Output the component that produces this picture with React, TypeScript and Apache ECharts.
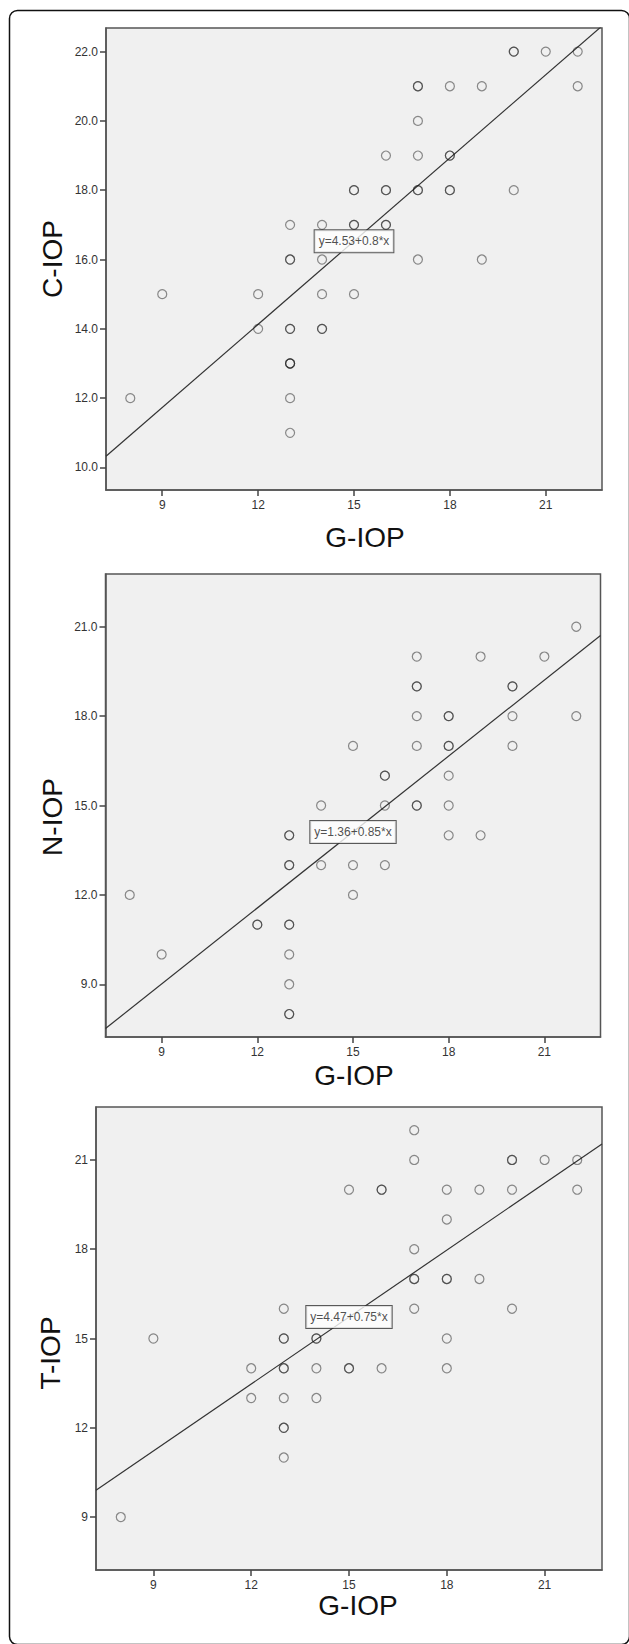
import React, { useEffect, useRef } from "react";
import * as echarts from "echarts";

// ---------- data ----------
const xTicks = [9, 12, 15, 18, 21];
const yTicks1 = [10, 12, 14, 16, 18, 20, 22];
const yTicks2 = [9, 12, 15, 18, 21];
const yTicks3 = [9, 12, 15, 18, 21];

// Panel 1: G-IOP vs C-IOP
const gIop1 = [
  20, 20, 21, 22,
  17, 17, 18, 19, 22,
  17,
  16, 17, 18, 18,
  15, 15, 16, 16, 17, 17, 18, 18, 20,
  13, 14, 15, 15, 16, 16,
  13, 13, 14, 17, 19,
  9, 12, 14, 15,
  12, 13, 13, 14, 14,
  13, 13, 13,
  8, 13,
  13,
];
const cIop = [
  22, 22, 22, 22,
  21, 21, 21, 21, 21,
  20,
  19, 19, 19, 19,
  18, 18, 18, 18, 18, 18, 18, 18, 18,
  17, 17, 17, 17, 17, 17,
  16, 16, 16, 16, 16,
  15, 15, 15, 15,
  14, 14, 14, 14, 14,
  13, 13, 13,
  12, 12,
  11,
];

// Panel 2: G-IOP vs N-IOP
const gIop2 = [
  22,
  17, 19, 21,
  17, 17, 20, 20,
  17, 18, 18, 20, 22,
  15, 17, 18, 18, 20,
  16, 16, 18,
  14, 16, 17, 17, 18,
  13, 13, 18, 19,
  13, 13, 14, 15, 16,
  8, 15,
  12, 12, 13, 13,
  9, 13,
  13,
  13, 13,
];
const nIop = [
  21,
  20, 20, 20,
  19, 19, 19, 19,
  18, 18, 18, 18, 18,
  17, 17, 17, 17, 17,
  16, 16, 16,
  15, 15, 15, 15, 15,
  14, 14, 14, 14,
  13, 13, 13, 13, 13,
  12, 12,
  11, 11, 11, 11,
  10, 10,
  9,
  8, 8,
];

// Panel 3: G-IOP vs T-IOP
const gIop3 = [
  17,
  17, 20, 20, 21, 22,
  15, 16, 16, 18, 19, 20, 22,
  18,
  17,
  17, 17, 18, 18, 19,
  13, 17, 20,
  9, 13, 13, 14, 14, 18,
  12, 13, 13, 14, 15, 15, 16, 18,
  12, 13, 14,
  13, 13,
  13,
  8,
];
const tIop = [
  22,
  21, 21, 21, 21, 21,
  20, 20, 20, 20, 20, 20, 20,
  19,
  18,
  17, 17, 17, 17, 17,
  16, 16, 16,
  15, 15, 15, 15, 15, 15,
  14, 14, 14, 14, 14, 14, 14, 14,
  13, 13, 13,
  12, 12,
  11,
  9,
];

// regression fits: [intercept, slope]
const fit1 = [4.53, 0.8];
const fit2 = [1.36, 0.85];
const fit3 = [4.47, 0.75];
const fitLabels = ["y=4.53+0.8*x", "y=1.36+0.85*x", "y=4.47+0.75*x"];
const labelAtX = 15;

const xTitle = "G-IOP";
const yTitles = ["C-IOP", "N-IOP", "T-IOP"];

export default function App() {
  const ref = useRef<HTMLDivElement>(null);

  useEffect(() => {
    if (!ref.current) return;
    const chart = echarts.init(ref.current, undefined, { renderer: "svg" });
    const font = "'Liberation Sans', Arial, sans-serif";

    const grids = [
      { left: 106, top: 28, width: 496, height: 462 },
      { left: 105.5, top: 574, width: 495, height: 463 },
      { left: 96, top: 1107, width: 506, height: 463 },
    ];
    const xRange = [7.24, 22.76];
    const yRanges = [
      [9.35, 22.68],
      [7.23, 22.77],
      [7.22, 22.78],
    ];
    const yTickSets = [yTicks1, yTicks2, yTicks3];
    const yFmt = [
      (v: number) => v.toFixed(1),
      (v: number) => v.toFixed(1),
      (v: number) => String(v),
    ];
    const xs = [gIop1, gIop2, gIop3];
    const ys = [cIop, nIop, tIop];
    const fits = [fit1, fit2, fit3];

    const series: any[] = [];
    for (let i = 0; i < 3; i++) {
      const pts = xs[i].map((x, k) => [x, ys[i][k]]);
      const [a, b] = fits[i];
      series.push({
        type: "line",
        xAxisIndex: i,
        yAxisIndex: i,
        data: [
          [xRange[0], a + b * xRange[0]],
          [xRange[1], a + b * xRange[1]],
        ],
        symbol: "none",
        showSymbol: false,
        clip: true,
        silent: true,
        lineStyle: { color: "#333", width: 1.2 },
        z: 2,
      });
      series.push({
        type: "scatter",
        xAxisIndex: i,
        yAxisIndex: i,
        data: pts,
        symbol: "circle",
        symbolSize: 9,
        silent: true,
        itemStyle: {
          color: "rgba(0,0,0,0)",
          borderColor: "rgba(20,20,20,0.6)",
          borderWidth: 1.2,
        },
        z: 3,
      });
      series.push({
        type: "scatter",
        xAxisIndex: i,
        yAxisIndex: i,
        data: [[labelAtX, a + b * labelAtX]],
        symbolSize: 1,
        silent: true,
        itemStyle: { color: "rgba(0,0,0,0)" },
        label: {
          show: true,
          position: "inside",
          formatter: fitLabels[i],
          fontFamily: font,
          fontSize: 12,
          color: "#222",
          backgroundColor: "#fff",
          borderColor: "#333",
          borderWidth: 1,
          padding: [5, 4, 5, 4],
        },
        z: 5,
      });
    }

    const titleStyle = (text: string) => ({
      text,
      fontFamily: font,
      fontSize: 28,
      fill: "#111",
      align: "center",
      verticalAlign: "middle",
    });

    const option: any = {
      animation: false,
      backgroundColor: "#fff",
      grid: grids.map((g) => ({
        ...g,
        show: true,
        backgroundColor: "#f0f0f0",
        borderColor: "#555",
        borderWidth: 1.5,
      })),
      xAxis: grids.map((_, i) => ({
        type: "value",
        gridIndex: i,
        min: xRange[0],
        max: xRange[1],
        splitLine: { show: false },
        axisLine: { show: true, lineStyle: { color: "#555", width: 1.5 } },
        axisTick: {
          show: true,
          length: 6,
          inside: false,
          customValues: xTicks,
          lineStyle: { color: "#444", width: 1.5 },
        },
        axisLabel: {
          customValues: xTicks,
          fontFamily: font,
          fontSize: 12,
          color: "#333",
          margin: 9,
        },
      })),
      yAxis: grids.map((_, i) => ({
        type: "value",
        gridIndex: i,
        min: yRanges[i][0],
        max: yRanges[i][1],
        splitLine: { show: false },
        axisLine: { show: true, lineStyle: { color: "#555", width: 1.5 } },
        axisTick: {
          show: true,
          length: 6,
          inside: false,
          customValues: yTickSets[i],
          lineStyle: { color: "#444", width: 1.5 },
        },
        axisLabel: {
          customValues: yTickSets[i],
          formatter: yFmt[i],
          fontFamily: font,
          fontSize: 12,
          color: "#333",
          margin: 8,
        },
      })),
      series,
      graphic: [
        {
          type: "rect",
          shape: { x: 9.5, y: 10.5, width: 620, height: 1634, r: 8 },
          style: { fill: "none", stroke: "#111", lineWidth: 1.5 },
          silent: true,
          z: 10,
        },
        { type: "text", x: 365, y: 537, style: titleStyle(xTitle), z: 10 },
        { type: "text", x: 354, y: 1075, style: titleStyle(xTitle), z: 10 },
        { type: "text", x: 358, y: 1605, style: titleStyle(xTitle), z: 10 },
        { type: "text", x: 52, y: 259, rotation: Math.PI / 2, style: titleStyle(yTitles[0]), z: 10 },
        { type: "text", x: 52, y: 817, rotation: Math.PI / 2, style: titleStyle(yTitles[1]), z: 10 },
        { type: "text", x: 50, y: 1353, rotation: Math.PI / 2, style: titleStyle(yTitles[2]), z: 10 },
      ],
    };

    chart.setOption(option);
    return () => {
      chart.dispose();
    };
  }, []);

  return (
    <div
      ref={ref}
      style={{
        position: "absolute",
        left: 0,
        top: 0,
        width: 629,
        height: 1644,
        background: "#fff",
      }}
    />
  );
}
